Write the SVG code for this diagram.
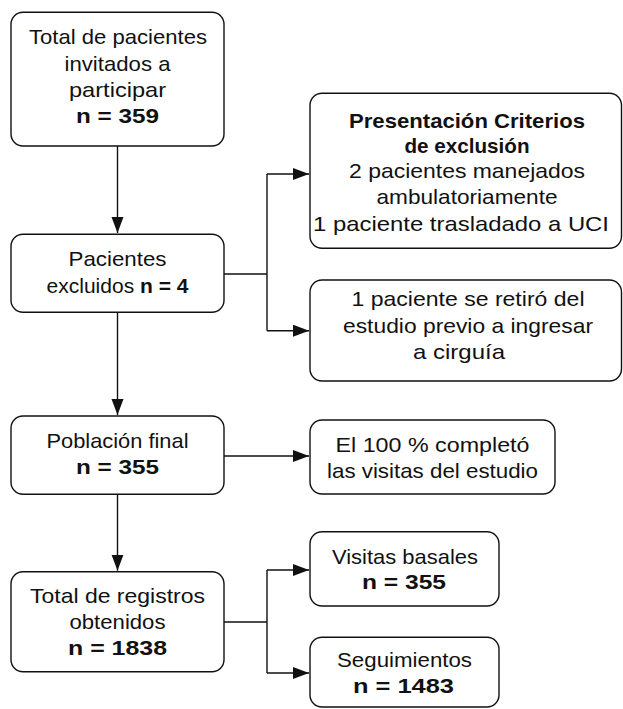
<svg xmlns="http://www.w3.org/2000/svg" width="623" height="709" viewBox="0 0 623 709">
<defs>
<style>
.box{fill:#fff;stroke:#111;stroke-width:1.4}
.t{font-family:"Liberation Sans",Arial,sans-serif;font-size:21px;fill:#111;text-anchor:middle}
.b{font-weight:bold}
.c{fill:none;stroke:#111;stroke-width:1.4}
</style>
<marker id="ah" markerUnits="userSpaceOnUse" markerWidth="17" markerHeight="13" refX="16" refY="6" orient="auto">
<path d="M0,0 L16,6 L0,12 z" fill="#111"/>
</marker>
</defs>
<rect width="623" height="709" fill="#fff"/>
<g id="connectors">
<path class="c" d="M117.5,146 V233" marker-end="url(#ah)"/>
<path class="c" d="M117.5,312.3 V415" marker-end="url(#ah)"/>
<path class="c" d="M117.5,494.3 V570.7" marker-end="url(#ah)"/>
<path class="c" d="M224,274 H267 M267,174 V330.7"/>
<path class="c" d="M267,174 H309" marker-end="url(#ah)"/>
<path class="c" d="M267,330.7 H309" marker-end="url(#ah)"/>
<path class="c" d="M224,456 H309" marker-end="url(#ah)"/>
<path class="c" d="M224,622 H267 M267,570 V673"/>
<path class="c" d="M267,570 H309" marker-end="url(#ah)"/>
<path class="c" d="M267,673 H309" marker-end="url(#ah)"/>
</g>
<g id="n1">
<rect class="box" x="11" y="12.3" width="213" height="133.7" rx="12"/>
<text class="t" x="118" y="44.3" textLength="178" lengthAdjust="spacingAndGlyphs">Total de pacientes</text>
<text class="t" x="117.5" y="71" textLength="106" lengthAdjust="spacingAndGlyphs">invitados a</text>
<text class="t" x="117.5" y="97" textLength="97" lengthAdjust="spacingAndGlyphs">participar</text>
<text class="t b" x="117.5" y="123.3" textLength="83" lengthAdjust="spacingAndGlyphs">n = 359</text>
</g>
<g id="n2">
<rect class="box" x="11" y="234.3" width="213" height="78" rx="12"/>
<text class="t" x="117.5" y="266" textLength="98" lengthAdjust="spacingAndGlyphs">Pacientes</text>
<text class="t" x="117.5" y="293.3">excluidos <tspan class="b">n = 4</tspan></text>
</g>
<g id="n3">
<rect class="box" x="310" y="93.3" width="311.5" height="155" rx="12"/>
<text class="t b" x="467" y="128.3" textLength="236" lengthAdjust="spacingAndGlyphs">Presentación Criterios</text>
<text class="t b" x="467" y="152.7" textLength="125" lengthAdjust="spacingAndGlyphs">de exclusión</text>
<text class="t" x="467" y="178" textLength="236" lengthAdjust="spacingAndGlyphs">2 pacientes manejados</text>
<text class="t" x="467" y="204" textLength="181" lengthAdjust="spacingAndGlyphs">ambulatoriamente</text>
<text class="t" x="461" y="231" textLength="296" lengthAdjust="spacingAndGlyphs">1 paciente trasladado a UCI</text>
</g>
<g id="n4">
<rect class="box" x="310" y="280" width="311.5" height="101" rx="12"/>
<text class="t" x="468" y="306" textLength="233" lengthAdjust="spacingAndGlyphs">1 paciente se retiró del</text>
<text class="t" x="468" y="333" textLength="250" lengthAdjust="spacingAndGlyphs">estudio previo a ingresar</text>
<text class="t" x="459" y="359" textLength="92" lengthAdjust="spacingAndGlyphs">a cirguía</text>
</g>
<g id="n5">
<rect class="box" x="11" y="416" width="213" height="78.3" rx="12"/>
<text class="t" x="117.5" y="447.7" textLength="142" lengthAdjust="spacingAndGlyphs">Población final</text>
<text class="t b" x="117.5" y="474" textLength="83" lengthAdjust="spacingAndGlyphs">n = 355</text>
</g>
<g id="n6">
<rect class="box" x="310" y="420" width="245" height="74" rx="12"/>
<text class="t" x="432.5" y="451.7" textLength="194" lengthAdjust="spacingAndGlyphs">El 100 % completó</text>
<text class="t" x="432.5" y="478" textLength="211" lengthAdjust="spacingAndGlyphs">las visitas del estudio</text>
</g>
<g id="n7">
<rect class="box" x="11" y="571.7" width="213" height="100" rx="12"/>
<text class="t" x="117.5" y="603.3" textLength="175" lengthAdjust="spacingAndGlyphs">Total de registros</text>
<text class="t" x="117.5" y="629" textLength="96" lengthAdjust="spacingAndGlyphs">obtenidos</text>
<text class="t b" x="117.5" y="655" textLength="99" lengthAdjust="spacingAndGlyphs">n = 1838</text>
</g>
<g id="n8">
<rect class="box" x="310" y="531.7" width="189" height="74.3" rx="12"/>
<text class="t" x="405" y="564.3" textLength="146" lengthAdjust="spacingAndGlyphs">Visitas basales</text>
<text class="t b" x="404" y="589.3" textLength="84" lengthAdjust="spacingAndGlyphs">n = 355</text>
</g>
<g id="n9">
<rect class="box" x="310" y="637.3" width="189" height="69.7" rx="12"/>
<text class="t" x="404.5" y="666.7" textLength="135" lengthAdjust="spacingAndGlyphs">Seguimientos</text>
<text class="t b" x="403.5" y="693.3" textLength="101" lengthAdjust="spacingAndGlyphs">n = 1483</text>
</g>
</svg>
